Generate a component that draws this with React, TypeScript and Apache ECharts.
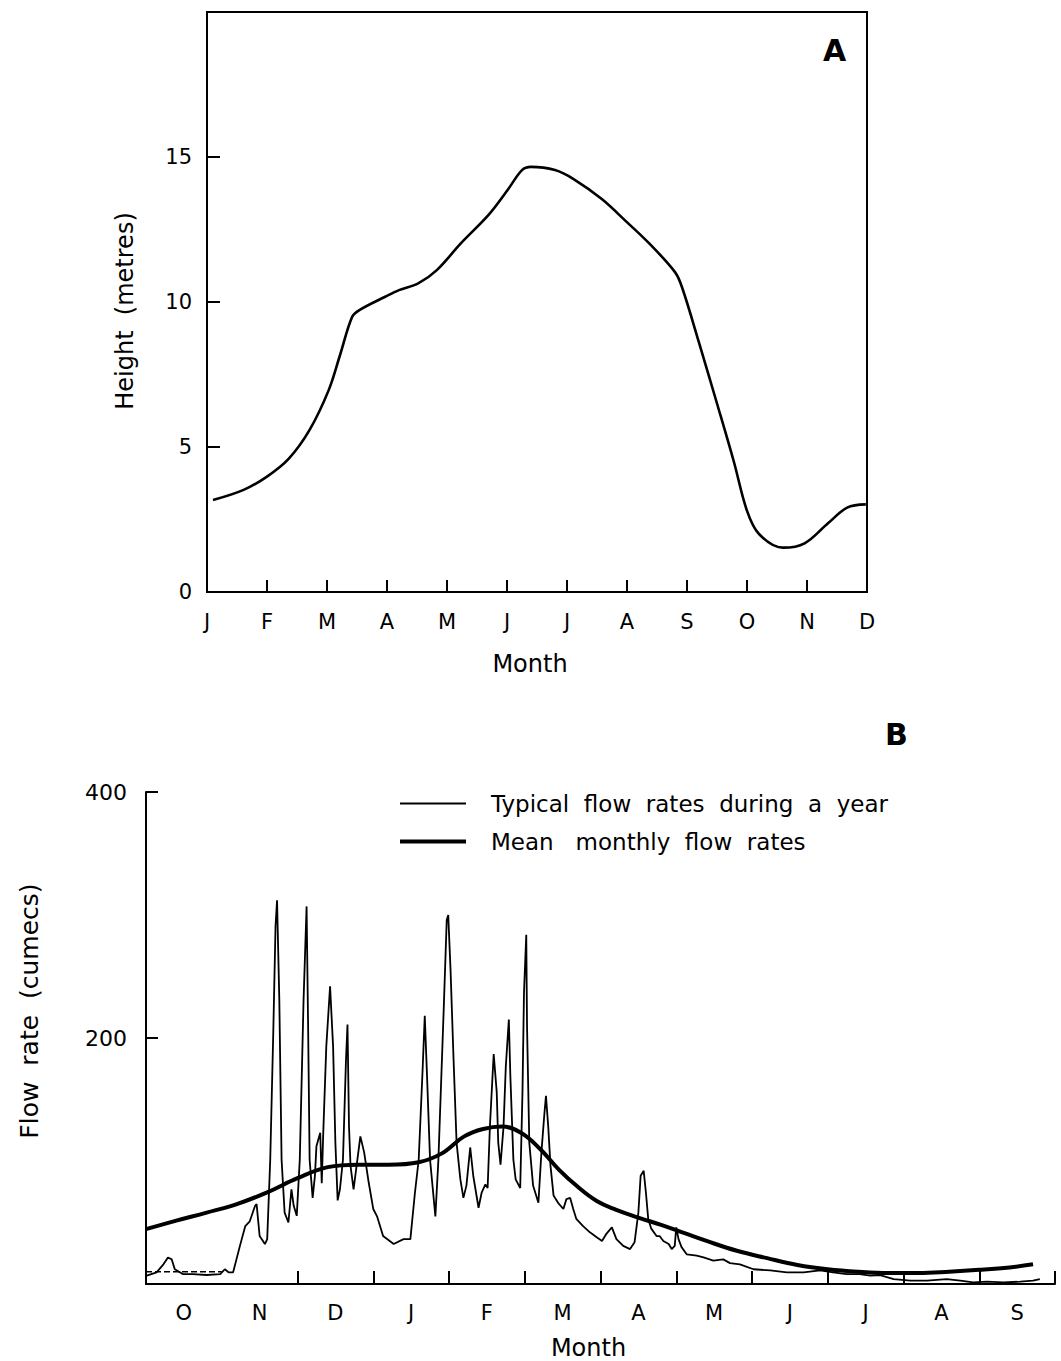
import React, { useEffect, useRef } from "react";
import * as echarts from "echarts";

// ---- Chart A: river height ----
const monthsA = ["J", "F", "M", "A", "M", "J", "J", "A", "S", "O", "N", "D"];
const heightX = [0.1, 0.61, 1.0, 1.36, 1.71, 2.03, 2.22, 2.42, 2.54, 2.97, 3.2, 3.52, 3.83, 4.23, 4.7, 5.01, 5.25, 5.4, 5.8, 6.11, 6.58, 6.98, 7.37, 7.8, 7.92, 8.2, 8.5, 8.78, 9.0, 9.2, 9.6, 9.96, 10.35, 10.67, 10.98];
const heightY = [3.17, 3.52, 3.98, 4.59, 5.59, 6.97, 8.19, 9.49, 9.72, 10.18, 10.41, 10.64, 11.1, 12.02, 13.02, 13.86, 14.55, 14.66, 14.55, 14.24, 13.55, 12.79, 12.02, 11.03, 10.49, 8.6, 6.5, 4.5, 2.8, 2.0, 1.53, 1.68, 2.37, 2.91, 3.02];

// ---- Chart B: flow rates ----
const monthsB = ["O", "N", "D", "J", "F", "M", "A", "M", "J", "J", "A", "S"];
const flowX = [0.01, 0.14, 0.23, 0.29, 0.34, 0.38, 0.49, 0.62, 0.8, 0.98, 1.04, 1.09, 1.15, 1.24, 1.31, 1.37, 1.44, 1.46, 1.5, 1.57, 1.6, 1.64, 1.68, 1.71, 1.73, 1.76, 1.79, 1.83, 1.88, 1.92, 1.95, 1.99, 2.03, 2.08, 2.12, 2.14, 2.16, 2.2, 2.23, 2.25, 2.3, 2.32, 2.34, 2.38, 2.43, 2.47, 2.5, 2.53, 2.56, 2.6, 2.64, 2.66, 2.68, 2.7, 2.74, 2.78, 2.83, 2.88, 2.94, 3.0, 3.05, 3.13, 3.27, 3.4, 3.49, 3.55, 3.6, 3.65, 3.68, 3.71, 3.75, 3.82, 3.86, 3.93, 3.97, 3.99, 4.02, 4.06, 4.1, 4.15, 4.19, 4.23, 4.28, 4.32, 4.39, 4.43, 4.48, 4.51, 4.54, 4.59, 4.63, 4.65, 4.68, 4.72, 4.75, 4.79, 4.81, 4.85, 4.88, 4.94, 4.97, 4.99, 5.02, 5.03, 5.06, 5.11, 5.18, 5.22, 5.26, 5.28, 5.31, 5.34, 5.38, 5.44, 5.51, 5.55, 5.6, 5.64, 5.68, 5.77, 5.86, 5.95, 6.02, 6.08, 6.15, 6.21, 6.3, 6.39, 6.45, 6.5, 6.53, 6.57, 6.6, 6.63, 6.67, 6.74, 6.78, 6.83, 6.9, 6.94, 6.98, 7.0, 7.03, 7.07, 7.14, 7.27, 7.36, 7.49, 7.62, 7.71, 7.84, 8.02, 8.24, 8.46, 8.68, 8.9, 9.07, 9.25, 9.42, 9.56, 9.69, 9.87, 10.09, 10.31, 10.57, 10.75, 10.92, 11.1, 11.32, 11.54, 11.71, 11.8];
const flowY = [6.8, 9.5, 16, 21.6, 20, 12, 8, 8, 7.3, 8, 12, 9.5, 9.5, 31, 47, 51, 63.6, 65, 39, 32.5, 36.5, 101, 204, 291, 312, 231, 101, 58, 50, 77, 63.6, 55.4, 101, 231, 307, 210, 101, 70, 88, 112, 123, 82, 123, 193, 242, 193, 115, 68, 77, 101, 182, 211, 128, 96, 77, 96, 120, 107, 82.5, 61, 55, 39, 32.5, 36.5, 36.5, 74, 101, 172, 218, 169, 101, 55, 101, 223, 296, 300, 256, 183, 115, 85, 70, 80, 111, 88, 62, 74, 81, 78, 128, 187, 156, 115, 97, 128, 177, 215, 169, 101, 85, 78, 156, 237, 284, 210, 115, 80, 66, 107, 139, 153, 128, 96, 72, 66, 61, 69, 70, 61, 53, 47, 42, 38, 35, 41, 46, 36.5, 31, 28.4, 34, 58, 88, 92, 74, 53, 45, 39, 39, 35, 32.5, 28.4, 31, 46, 36.5, 30, 24, 23, 21.6, 19, 20, 17, 16, 12, 11, 9.5, 9.5, 11, 9.5, 8, 8, 6.8, 7.3, 4, 2.7, 2.7, 4, 2.7, 1.4, 1.9, 1.4, 1.9, 2.7, 4];
const meanX = [0, 0.4, 0.8, 1.2, 1.6, 2.0, 2.4, 2.8, 3.2, 3.6, 3.9, 4.2, 4.45, 4.7, 4.95, 5.2, 5.45, 5.7, 5.95, 6.2, 6.5, 6.8, 7.1, 7.4, 7.8, 8.2, 8.6, 9.0, 9.4, 9.8, 10.2, 10.6, 11.0, 11.4, 11.71];
const meanY = [44.6, 51.5, 58, 65, 74.5, 86, 95, 97, 97, 99, 106, 120, 126, 128, 123, 110, 93, 79, 67.5, 60.5, 54, 48, 41.5, 35, 27, 21, 15.5, 12, 10, 9, 9, 10, 11.5, 13.5, 16];
const baseX = [0, 1.0];
const baseY = [10, 10];

const legendTypical = "Typical  flow  rates  during  a  year";
const legendMean = "Mean   monthly  flow  rates";

const FONT = "DejaVu Sans";
const zip = (xs: number[], ys: number[]) => xs.map((x, i) => [x, ys[i]]);

export default function App() {
  const ref = useRef<HTMLDivElement>(null);
  useEffect(() => {
    if (!ref.current) return;
    const chart = echarts.init(ref.current, undefined, { renderer: "svg" });
    const black = "#000";
    const axisText = { color: black, fontFamily: FONT, fontSize: 21 };
    chart.setOption({
      animation: false,
      backgroundColor: "#fff",
      title: [
        { text: "A", left: 818, top: 30, textStyle: { fontSize: 30, fontWeight: "bold", color: black, fontFamily: FONT } },
        { text: "B", left: 880, top: 714, textStyle: { fontSize: 30, fontWeight: "bold", color: black, fontFamily: FONT } },
      ],
      legend: {
        data: [
          { name: legendTypical, lineStyle: { width: 2, color: black } },
          { name: legendMean, lineStyle: { width: 4, color: black } },
        ],
        orient: "vertical",
        left: 393,
        top: 787,
        itemWidth: 66,
        itemHeight: 20,
        itemGap: 15,
        itemStyle: { opacity: 0 },
        textStyle: { color: black, fontFamily: FONT, fontSize: 23, padding: [0, 0, 0, 20] },
      },
      grid: [
        { left: 207, top: 12, width: 660, height: 580, show: true, borderColor: black, borderWidth: 2, backgroundColor: "transparent" },
        { left: 146, top: 792, width: 909, height: 493 },
      ],
      xAxis: [
        {
          gridIndex: 0, type: "value", min: 0, max: 11, interval: 1, position: "bottom",
          axisLine: { lineStyle: { color: black, width: 2 } },
          axisTick: { inside: true, length: 12, lineStyle: { color: black, width: 2 }, customValues: [1, 2, 3, 4, 5, 6, 7, 8, 9, 10] },
          axisLabel: { ...axisText, margin: 19, showMinLabel: true, showMaxLabel: true, formatter: (v: number) => monthsA[v] ?? "" },
          splitLine: { show: false },
          name: "Month", nameLocation: "middle", nameGap: 60,
          nameTextStyle: { color: black, fontFamily: FONT, fontSize: 24, padding: [0, 14, 0, 0] },
        },
        {
          gridIndex: 1, type: "value", min: 0, max: 12, interval: 1, position: "bottom",
          axisLine: { lineStyle: { color: black, width: 2 } },
          axisTick: { inside: true, length: 13, lineStyle: { color: black, width: 2 }, customValues: [2, 3, 4, 5, 6, 7, 8, 9, 10, 11, 12] },
          axisLabel: { show: false },
          splitLine: { show: false },
        },
        {
          gridIndex: 1, type: "category", data: monthsB, boundaryGap: true, position: "bottom",
          axisLine: { show: false }, axisTick: { show: false },
          axisLabel: { ...axisText, margin: 18, interval: 0 },
          name: "Month", nameLocation: "middle", nameGap: 52,
          nameTextStyle: { color: black, fontFamily: FONT, fontSize: 24, padding: [0, 24, 0, 0] },
        },
      ],
      yAxis: [
        {
          gridIndex: 0, type: "value", min: 0, max: 20, interval: 5,
          axisLine: { show: true, lineStyle: { color: black, width: 2 } },
          axisTick: { show: true, inside: true, length: 13, lineStyle: { color: black, width: 2 }, customValues: [5, 10, 15] },
          axisLabel: { ...axisText, margin: 15, formatter: (v: number) => (v === 20 ? "" : String(v)) },
          splitLine: { show: false },
          name: "Height  (metres)", nameLocation: "middle", nameGap: 70,
          nameTextStyle: { color: black, fontFamily: FONT, fontSize: 24, padding: [0, 18, 0, 0] },
        },
        {
          gridIndex: 1, type: "value", min: 0, max: 400, interval: 200,
          axisLine: { show: true, lineStyle: { color: black, width: 2 } },
          axisTick: { show: true, inside: true, length: 12, lineStyle: { color: black, width: 2 }, customValues: [200, 400] },
          axisLabel: { ...axisText, fontSize: 22, margin: 19, formatter: (v: number) => (v === 0 ? "" : String(v)) },
          splitLine: { show: false },
          name: "Flow  rate  (cumecs)", nameLocation: "middle", nameGap: 104,
          nameTextStyle: { color: black, fontFamily: FONT, fontSize: 25, padding: [0, 0, 0, 54] },
        },
      ],
      series: [
        {
          name: "Height", type: "line", xAxisIndex: 0, yAxisIndex: 0, smooth: 0.35,
          data: zip(heightX, heightY), showSymbol: false, symbol: "none",
          lineStyle: { color: black, width: 2.6 },
        },
        {
          name: legendTypical, type: "line", xAxisIndex: 1, yAxisIndex: 1, smooth: false,
          data: zip(flowX, flowY), showSymbol: false, symbol: "none",
          itemStyle: { color: black },
          lineStyle: { color: black, width: 1.8 },
        },
        {
          name: legendMean, type: "line", xAxisIndex: 1, yAxisIndex: 1, smooth: 0.4,
          data: zip(meanX, meanY), showSymbol: false, symbol: "none",
          itemStyle: { color: black },
          lineStyle: { color: black, width: 4 },
        },
        {
          name: "base", type: "line", xAxisIndex: 1, yAxisIndex: 1,
          data: zip(baseX, baseY), showSymbol: false, symbol: "none",
          lineStyle: { color: black, width: 1.5, type: "dashed" },
        },
      ],
    });
    return () => chart.dispose();
  }, []);
  return (
    <div
      ref={ref}
      style={{ position: "absolute", left: 0, top: 0, width: 1061, height: 1361, background: "#fff" }}
    />
  );
}
